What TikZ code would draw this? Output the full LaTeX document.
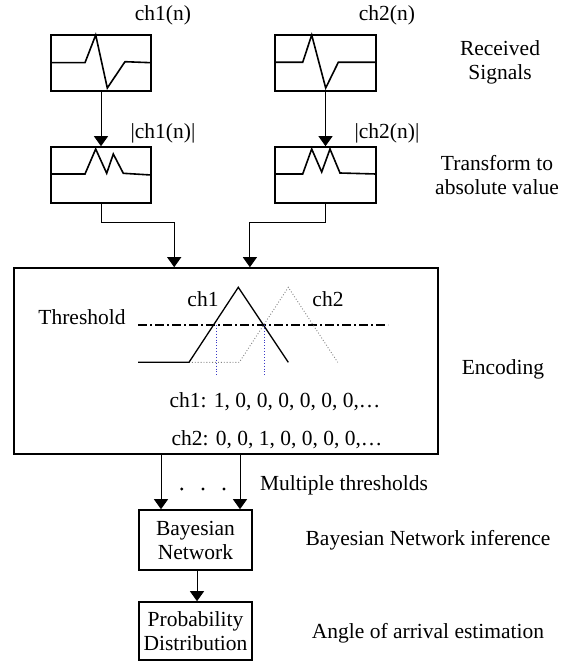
\documentclass[tikz,border=0pt]{standalone}
\usepackage{fontspec}
\setmainfont{Liberation Serif}
\usetikzlibrary{arrows.meta,calc}
\begin{document}
\begin{tikzpicture}[x=1pt,y=-1pt,
  every node/.style={font=\fontsize{21.5}{24}\selectfont, inner sep=0pt},
  box/.style={draw, line width=1.6pt, inner sep=0pt},
  lbl/.style={align=center},
  arr/.style={line width=0.9pt, -{Triangle[length=10pt,width=14pt]}},
  wave/.style={line width=1.6pt, line join=miter},
  thr/.style={line width=1.3pt, dash pattern=on 9pt off 3pt on 2pt off 3pt},
  ch1line/.style={line width=1.3pt},
  ch2line/.style={line width=0.9pt, dotted, gray},
  mark1/.style={line width=0.9pt, dotted, draw=blue!55!gray},
]
\useasboundingbox (0,0) rectangle (571,666);

% signal boxes
\node[box, minimum width=100pt, minimum height=56pt] (s1) at (101,63) {};
\node[box, minimum width=101pt, minimum height=56pt] (s2) at (325.5,63) {};
\node[box, minimum width=100pt, minimum height=56pt] (a1) at (101,175) {};
\node[box, minimum width=101pt, minimum height=56pt] (a2) at (325.5,175) {};
\node[box, minimum width=424pt, minimum height=186pt] (enc) at (226,361) {};
\node[box, minimum width=113pt, minimum height=60pt, lbl] (bn) at (195.5,540) {Bayesian\\Network};
\node[box, minimum width=113pt, minimum height=58pt, lbl] (pd) at (195.5,631) {Probability\\Distribution};

% waveforms
\draw[wave] (51,62.7) -- (85,62.7) -- (95.7,35) -- (107.3,88) -- (125,61.7) -- (151,62.7);
\draw[wave] (275,62.3) -- (302.7,62.3) -- (311.7,35) -- (325.7,88) -- (338.3,62.3) -- (376,62.3);
\draw[wave] (51,174) -- (85,174) -- (95.7,149) -- (106.7,173.3) -- (113.3,154) -- (123.3,173.3) -- (151,175);
\draw[wave] (275,174) -- (302.7,174) -- (311.7,149) -- (321.7,172) -- (330,149) -- (340,173) -- (376,174);

% labels above boxes
\node (l1) at (163,15) {ch1(n)};
\node (l2) at (387,15) {ch2(n)};
\node (l3) at (163,133) {|ch1(n)|};
\node (l4) at (387,133) {|ch2(n)|};

% right-side labels
\node[lbl] (r1) at (500,62) {Received\\Signals};
\node[lbl] (r2) at (497,175) {Transform to\\absolute value};
\node (r3) at (503,369) {Encoding};
\node (r4) at (344,485) {Multiple thresholds};
\node (r5) at (428,540) {Bayesian Network inference};
\node (r6) at (428,633) {Angle of arrival estimation};

% connectors
\draw[arr] (s1) -- (a1);
\draw[arr] (s2) -- (a2);
\draw[arr] (a1.south) -- ++(0,19) -| ([xshift=161pt]enc.north west);
\draw[arr] (a2.south) -- ++(0,19) -| ([xshift=236.7pt]enc.north west);
\draw[arr] (enc.south -| 161,0) -- (bn.north -| 161,0);
\draw[arr] (enc.south -| 240,0) -- (bn.north -| 240,0);
\draw[arr] (bn.south -| 197,0) -- (pd.north -| 197,0);

% dots
\fill (181.7,489) circle (1.6pt);
\fill (203,489) circle (1.6pt);
\fill (224,489) circle (1.6pt);

% encoding contents
\node (th) at (82,317) {Threshold};
\node (c1) at (203,299) {ch1};
\node (c2) at (328,299) {ch2};
\draw[thr] (138,325) -- (388,325);
\draw[ch2line] (189,362.3) -- (239.3,362.3) -- (288.3,287.3) -- (337.7,362.3);
\draw[ch1line] (138,362.3) -- (189,362.3) -- (238.3,287.3) -- (288.3,362.3);
\draw[mark1] (216,325) -- (216,377);
\draw[mark1] (264,325) -- (264,377);
\node (e1) at (275,402) {ch1: 1, 0, 0, 0, 0, 0, 0,…};
\node (e2) at (277,440) {ch2: 0, 0, 1, 0, 0, 0, 0,…};
\end{tikzpicture}
\end{document}
